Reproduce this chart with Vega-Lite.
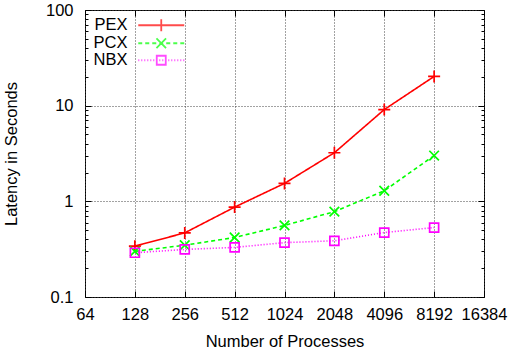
{
  "$schema": "https://vega.github.io/schema/vega-lite/v6.json",
  "autosize": "none",
  "width": 399,
  "height": 287,
  "padding": {"left": 85, "top": 10, "right": 27, "bottom": 57},
  "background": "white",
  "config": {
    "font": "Liberation Sans",
    "view": {"stroke": "black", "strokeWidth": 1},
    "axis": {
      "labelFont": "Liberation Sans",
      "titleFont": "Liberation Sans",
      "labelFontSize": 16.5,
      "titleFontSize": 16.5,
      "titleFontWeight": "normal",
      "labelColor": "black",
      "titleColor": "black",
      "domain": false,
      "tickColor": "black",
      "tickWidth": 1,
      "grid": false,
      "gridColor": "#444",
      "gridDash": [1, 2],
      "gridWidth": 1,
      "labelFlush": false
    },
    "legend": {
      "title": null, "orient": "top-left", "offset": 7, "padding": 0,
      "labelFontSize": 16.5, "labelFont": "Liberation Sans", "labelColor": "black",
      "labelAlign": "right", "labelOffset": -42, "symbolOffset": 61,
      "symbolSize": 144, "symbolStrokeWidth": 1.8, "rowPadding": -2.3
    }
  },
  "data": {
    "values": [
      {"n": 128, "latency": 0.34, "series": "PEX"},
      {"n": 256, "latency": 0.468, "series": "PEX"},
      {"n": 512, "latency": 0.87, "series": "PEX"},
      {"n": 1024, "latency": 1.54, "series": "PEX"},
      {"n": 2048, "latency": 3.22, "series": "PEX"},
      {"n": 4096, "latency": 9.1, "series": "PEX"},
      {"n": 8192, "latency": 20.2, "series": "PEX"},
      {"n": 128, "latency": 0.30, "series": "PCX"},
      {"n": 256, "latency": 0.348, "series": "PCX"},
      {"n": 512, "latency": 0.419, "series": "PCX"},
      {"n": 1024, "latency": 0.56, "series": "PCX"},
      {"n": 2048, "latency": 0.78, "series": "PCX"},
      {"n": 4096, "latency": 1.29, "series": "PCX"},
      {"n": 8192, "latency": 3.01, "series": "PCX"},
      {"n": 128, "latency": 0.29, "series": "NBX"},
      {"n": 256, "latency": 0.314, "series": "NBX"},
      {"n": 512, "latency": 0.33, "series": "NBX"},
      {"n": 1024, "latency": 0.37, "series": "NBX"},
      {"n": 2048, "latency": 0.387, "series": "NBX"},
      {"n": 4096, "latency": 0.472, "series": "NBX"},
      {"n": 8192, "latency": 0.532, "series": "NBX"}
    ]
  },
  "layer": [
    {
      "mark": {"type": "line", "strokeWidth": 1.6},
      "encoding": {
        "x": {
          "field": "n", "type": "quantitative",
          "scale": {"type": "log", "base": 2, "domain": [64, 16384], "nice": false},
          "axis": {"orient": "bottom", "values": [64, 128, 256, 512, 1024, 2048, 4096, 8192, 16384], "format": "d", "tickSize": -6, "labelPadding": 15, "title": "Number of Processes", "titlePadding": 11, "grid": true}
        },
        "y": {
          "field": "latency", "type": "quantitative",
          "scale": {"type": "log", "domain": [0.1, 100], "nice": false},
          "axis": {"orient": "left", "values": [0.1, 1, 10, 100], "format": "~g", "tickSize": -6, "labelPadding": 18, "title": "Latency in Seconds", "titlePadding": 26, "grid": true}
        },
        "color": {
          "field": "series", "type": "nominal",
          "scale": {"domain": ["PEX", "PCX", "NBX"], "range": ["#ff0000", "#00ff00", "#ff00ff"]},
          "legend": null
        },
        "strokeDash": {"field": "series", "type": "nominal", "scale": {"domain": ["PEX", "PCX", "NBX"], "range": [[1, 0], [4, 3], [1, 2]]}, "legend": null}
      }
    },
    {
      "mark": {"type": "point", "filled": false, "size": 144, "strokeWidth": 1.7, "opacity": 1},
      "encoding": {
        "x": {
          "field": "n", "type": "quantitative",
          "axis": {"orient": "top", "values": [64, 128, 256, 512, 1024, 2048, 4096, 8192, 16384], "tickSize": -6, "labels": false, "title": null, "grid": false}
        },
        "y": {
          "field": "latency", "type": "quantitative",
          "axis": {"orient": "right", "values": [0.1, 1, 10, 100], "tickSize": -6, "labels": false, "title": null, "grid": false}
        },
        "color": {
          "field": "series", "type": "nominal",
          "scale": {"domain": ["PEX", "PCX", "NBX"], "range": ["#ff0000", "#00ff00", "#ff00ff"]},
          "legend": null
        },
        "shape": {
          "field": "series", "type": "nominal",
          "scale": {"domain": ["PEX", "PCX", "NBX"], "range": ["M-1,0H1M0,-1V1", "M-0.8,-0.8L0.8,0.8M-0.8,0.8L0.8,-0.8", "M-0.75,-0.75H0.75V0.75H-0.75Z"]},
          "legend": null
        }
      }
    },
    {
      "mark": {"type": "point", "opacity": 0},
      "encoding": {
        "x": {"field": "n", "type": "quantitative", "axis": null},
        "y": {
          "field": "latency", "type": "quantitative",
          "axis": {"orient": "left", "values": [0.2, 0.3, 0.4, 0.5, 0.6, 0.7, 0.8, 0.9, 2, 3, 4, 5, 6, 7, 8, 9, 20, 30, 40, 50, 60, 70, 80, 90], "tickSize": -3, "labels": false, "title": null, "grid": false}
        }
      }
    },
    {
      "mark": {"type": "point", "opacity": 0},
      "encoding": {
        "x": {"field": "n", "type": "quantitative", "axis": null},
        "y": {
          "field": "latency", "type": "quantitative",
          "axis": {"orient": "right", "values": [0.2, 0.3, 0.4, 0.5, 0.6, 0.7, 0.8, 0.9, 2, 3, 4, 5, 6, 7, 8, 9, 20, 30, 40, 50, 60, 70, 80, 90], "tickSize": -3, "labels": false, "title": null, "grid": false}
        }
      }
    },
    {
      "transform": [{"filter": "false"}],
      "mark": {"type": "point", "filled": false, "strokeWidth": 1.8},
      "encoding": {
        "x": {"field": "n", "type": "quantitative", "axis": null},
        "y": {"field": "latency", "type": "quantitative", "axis": null},
        "color": {
          "field": "series", "type": "nominal",
          "scale": {"domain": ["PEX", "PCX", "NBX"], "range": ["#ff0000", "#00ff00", "#ff00ff"]},
          "legend": {"title": null, "orient": "top-left"}
        },
        "shape": {
          "field": "series", "type": "nominal",
          "scale": {"domain": ["PEX", "PCX", "NBX"], "range": [
            "M-3.83,0H3.83M0,-1V1",
            "M-3.83,0H-3.17M-2.67,0H-2M-1.5,0H-0.83M-0.33,0H0.33M0.83,0H1.5M2,0H2.67M3.17,0H3.83M-0.8,-0.8L0.8,0.8M-0.8,0.8L0.8,-0.8",
            "M-3.83,0h0.17M-3.33,0h0.17M-2.83,0h0.17M-2.33,0h0.17M-1.83,0h0.17M-1.33,0h0.17M-0.83,0h0.17M-0.33,0h0.17M0.17,0h0.17M0.67,0h0.17M1.17,0h0.17M1.67,0h0.17M2.17,0h0.17M2.67,0h0.17M3.17,0h0.17M3.67,0h0.17M-0.75,-0.75H0.75V0.75H-0.75Z"
          ]},
          "legend": {"title": null, "orient": "top-left"}
        }
      }
    }
  ],
  "resolve": {
    "axis": {"x": "independent", "y": "independent"},
    "scale": {"color": "independent", "shape": "independent"}
  }
}
